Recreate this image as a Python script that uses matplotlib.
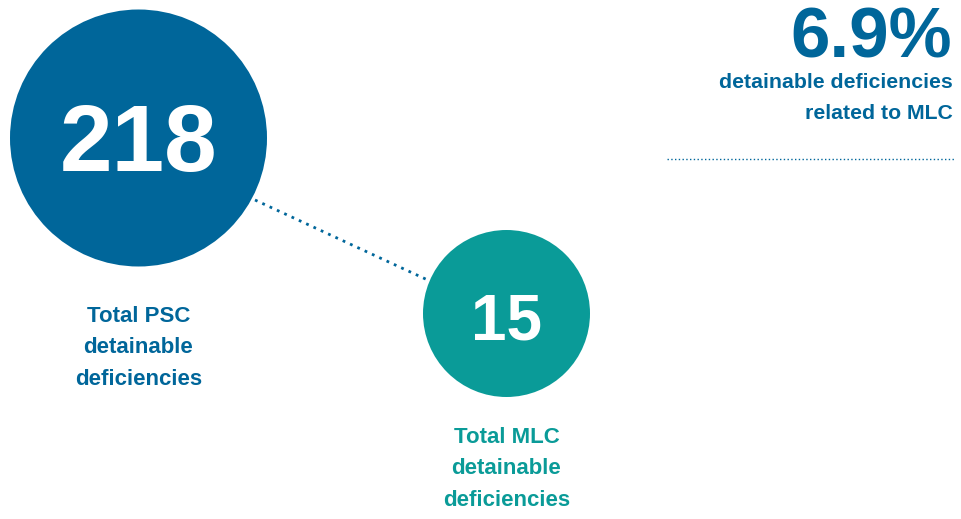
import matplotlib
matplotlib.use("Agg")
import matplotlib.pyplot as plt
from matplotlib.patches import Circle

# Figures shown
labels = ["Total PSC\ndetainable\ndeficiencies", "Total MLC\ndetainable\ndeficiencies"]
values = [218, 15]
share_caption = "detainable deficiencies\nrelated to MLC"
share_pct = round(values[1] / values[0] * 100, 1)

BLUE = "#00669a"
TEAL = "#0a9b98"

plt.rcParams["font.family"] = ["Liberation Sans", "DejaVu Sans"]

W, H = 962, 519
fig = plt.figure(figsize=(W / 100, H / 100), dpi=100)
ax = fig.add_axes([0, 0, 1, 1])
ax.set_xlim(0, W)
ax.set_ylim(H, 0)
ax.set_aspect("equal")
ax.axis("off")

# Bubble layout (pixel space)
centers = [(138.5, 138), (506.5, 313.5)]
radii = [128.5, 83.5]
colors = [BLUE, TEAL]
num_sizes = [68, 46]
num_baselines = [171, 340]
label_first_baseline = [322, 443]
LINE_STEP = 31.5

# Connector between the bubbles
ax.plot([255, 432], [200, 282], color=BLUE, lw=2.0,
        linestyle=(0, (1, 1.9)), zorder=1)

for (cx, cy), r, c, v, lab, fs, nb, lb in zip(centers, radii, colors, values,
                                              labels, num_sizes, num_baselines,
                                              label_first_baseline):
    ax.add_patch(Circle((cx, cy), r, facecolor=c, edgecolor="none", zorder=2))
    ax.text(cx, nb, f"{v}", color="white", fontsize=fs, fontweight="bold",
            ha="center", va="baseline", zorder=3)
    for i, line in enumerate(lab.split("\n")):
        ax.text(cx, lb + i * LINE_STEP, line, color=c, fontsize=16,
                fontweight="bold", ha="center", va="baseline", zorder=3)

# Share callout, top right
ax.text(952, 57, f"{share_pct}%", color=BLUE, fontsize=51, fontweight="bold",
        ha="right", va="baseline")
for i, line in enumerate(share_caption.split("\n")):
    ax.text(953, 88 + i * 31, line, color=BLUE, fontsize=15.3,
            fontweight="bold", ha="right", va="baseline")
ax.plot([667, 955], [159, 159], color=BLUE, lw=1.0,
        linestyle=(0, (1, 1.7)))

fig.savefig("out.png", dpi=100, facecolor="white")
